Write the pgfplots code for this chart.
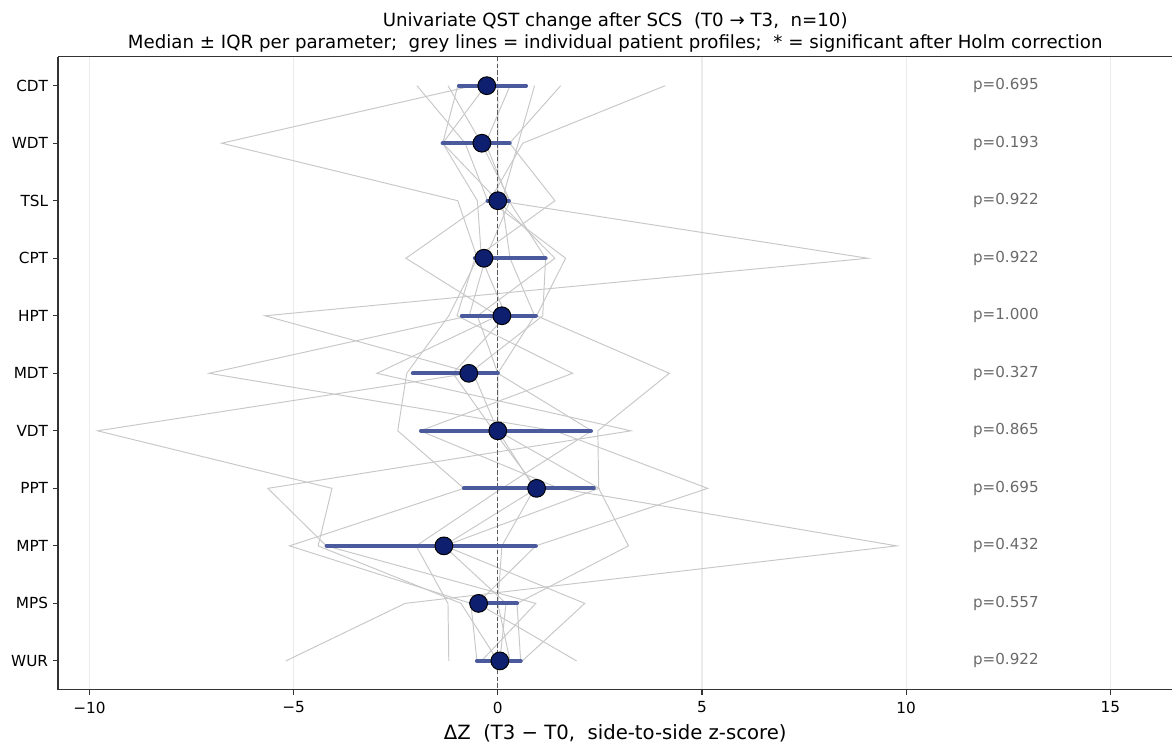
\documentclass[border=0pt]{standalone}
\usepackage{fontspec}
\setmainfont{DejaVu Sans}
\usepackage{pgfplots}
\usepackage{pgfplotstable}
\pgfplotsset{compat=1.18}

\definecolor{iqr}{HTML}{4A5A9C}
\definecolor{med}{HTML}{0D1F6E}
\definecolor{prof}{HTML}{C8C8C8}
\definecolor{pcol}{HTML}{6A6A6A}
\definecolor{gridc}{HTML}{EBEBEB}
\definecolor{spine}{HTML}{333333}

% summary: y index, median, IQR minus, IQR plus
\pgfplotstableread{
y med minus plus
0  -0.27 0.68 0.96
1  -0.39 0.96 0.68
2   0.00 0.25 0.27
3  -0.34 0.22 1.51
4   0.10 0.98 0.83
5  -0.71 1.37 0.71
6   0.00 1.88 2.28
7   0.95 1.78 1.40
8  -1.32 2.87 2.25
9  -0.47 0.19 0.94
10  0.05 0.56 0.51
}\summary

% individual patient profiles
\pgfplotstableread{
y  p1    p2    p3    p4    p5    p6    p7    p8    p9    p10
0  -0.60 4.10 -0.98 -1.22 0.30 -1.98 1.54 0.90 -0.30 0.00
1  -6.76 0.61 -1.35 -0.40 -0.30 -0.80 0.29 0.50 -1.35 0.00
2  -0.98 -0.20 0.00 0.30 0.27 -0.25 1.40 0.10 -0.50 0.00
3  -0.50 1.66 9.06 -0.30 1.17 -2.25 -0.56 0.30 -0.40 1.40
4  -1.20 0.95 -5.70 -0.70 1.10 0.00 -1.00 0.90 0.20 -0.50
5  -2.23 4.20 -0.60 -7.07 -0.70 -2.96 1.83 0.00 -1.10 0.00
6  -2.45 2.45 0.00 1.40 -9.80 3.26 -1.90 2.30 -0.10 0.00
7  -0.83 2.47 2.48 5.14 -4.06 -5.63 1.50 0.10 0.95 0.90
8  -5.10 3.20 -1.30 0.93 -4.40 -4.20 9.77 -2.00 -1.32 0.10
9  -0.66 0.47 2.13 -0.50 -0.90 0.93 -2.27 -1.22 0.20 0.00
10 -0.51 0.56 0.60 1.93 0.00 -0.40 -5.19 -1.20 0.05 0.30
}\profiles

\begin{document}
\begin{tikzpicture}
\begin{axis}[
  at={(0,0)}, anchor=south west,
  scale only axis, width=802.8pt, height=455.8pt,
  xmin=-10.77, xmax=16.52, ymin=-0.5, ymax=10.5, y dir=reverse,
  axis x line=bottom, axis y line=left,
  axis line style={-, line width=0.8pt, spine},
  xtick={-10,-5,0,5,10,15},
  xticklabels={−10,−5,0,5,10,15},
  ytick={0,1,2,3,4,5,6,7,8,9,10},
  yticklabels={CDT,WDT,TSL,CPT,HPT,MDT,VDT,PPT,MPT,MPS,WUR},
  tick align=outside, major tick length=3.6pt,
  tick style={line width=0.8pt, spine},
  tick label style={font=\fontsize{11}{13}\selectfont, text=black},
  xticklabel style={yshift=-1.5pt},
  xmajorgrids, ymajorgrids=false,
  grid style={line width=0.8pt, gridc},
  xlabel={ΔZ~ (T3 − T0,~ side-to-side z-score)},
  xlabel style={font=\fontsize{14.15}{16}\selectfont, yshift=-1pt},
  title={Univariate QST change after SCS~ (T0 → T3,~ n=10)\\Median ± IQR per parameter;~ grey lines = individual patient profiles;~ * = significant after Holm correction},
  title style={font=\fontsize{13.1}{15.8}\selectfont, align=center, yshift=-6.5pt},
  clip=true,
]
\draw[spine, line width=0.8pt] (axis cs:-10.77,-0.5) -- (axis cs:16.52,-0.5);
\pgfplotsinvokeforeach{1,...,10}{
  \addplot[prof, line width=0.7pt, no markers] table[x=p#1, y=y]{\profiles};
}
\draw[black!65, line width=0.8pt, dash pattern=on 3.2pt off 1.6pt] (axis cs:0,-0.5) -- (axis cs:0,10.5);
\addplot[draw=none, no markers,
  error bars/.cd, x dir=both, x explicit, error mark=none,
  error bar style={line width=3pt, iqr, line cap=round}]
  table[x=med, y=y, x error plus=plus, x error minus=minus]{\summary};
\addplot[only marks, mark=*, mark size=6.4pt,
  mark options={fill=med, draw=black, line width=0.7pt}]
  table[x=med, y=y]{\summary};
\node[anchor=west, text=pcol, font=\fontsize{10.9}{12}\selectfont, inner sep=0pt] at (axis cs:11.63,0) {p=0.695};
\node[anchor=west, text=pcol, font=\fontsize{10.9}{12}\selectfont, inner sep=0pt] at (axis cs:11.63,1) {p=0.193};
\node[anchor=west, text=pcol, font=\fontsize{10.9}{12}\selectfont, inner sep=0pt] at (axis cs:11.63,2) {p=0.922};
\node[anchor=west, text=pcol, font=\fontsize{10.9}{12}\selectfont, inner sep=0pt] at (axis cs:11.63,3) {p=0.922};
\node[anchor=west, text=pcol, font=\fontsize{10.9}{12}\selectfont, inner sep=0pt] at (axis cs:11.63,4) {p=1.000};
\node[anchor=west, text=pcol, font=\fontsize{10.9}{12}\selectfont, inner sep=0pt] at (axis cs:11.63,5) {p=0.327};
\node[anchor=west, text=pcol, font=\fontsize{10.9}{12}\selectfont, inner sep=0pt] at (axis cs:11.63,6) {p=0.865};
\node[anchor=west, text=pcol, font=\fontsize{10.9}{12}\selectfont, inner sep=0pt] at (axis cs:11.63,7) {p=0.695};
\node[anchor=west, text=pcol, font=\fontsize{10.9}{12}\selectfont, inner sep=0pt] at (axis cs:11.63,8) {p=0.432};
\node[anchor=west, text=pcol, font=\fontsize{10.9}{12}\selectfont, inner sep=0pt] at (axis cs:11.63,9) {p=0.557};
\node[anchor=west, text=pcol, font=\fontsize{10.9}{12}\selectfont, inner sep=0pt] at (axis cs:11.63,10) {p=0.922};
\end{axis}
\path (-41.76pt,-37.44pt) rectangle (802.8pt,496.8pt);
\end{tikzpicture}
\end{document}
